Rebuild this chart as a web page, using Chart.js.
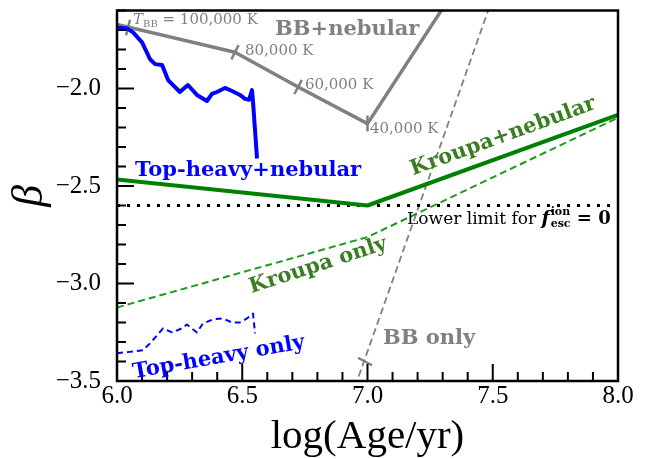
<!DOCTYPE html>
<html>
<head>
<meta charset="utf-8">
<script src="https://cdn.jsdelivr.net/npm/chart.js@4.4.1/dist/chart.umd.min.js"></script>
<style>
html, body { margin: 0; padding: 0; background: #fff; }
#wrap { width: 652px; height: 459px; }
</style>
</head>
<body>
<div id="wrap"><canvas id="beta-chart" width="652" height="459"></canvas></div>
<script>
// beta slope vs log(age) — model tracks
const xTicks = [6.0, 6.5, 7.0, 7.5, 8.0];
const yTicks = [-3.5, -3.0, -2.5, -2.0];

// Top-heavy IMF + nebular
const thNebAge  = [6.0, 6.04, 6.064, 6.10, 6.132, 6.152, 6.18, 6.204, 6.251, 6.283, 6.319, 6.359, 6.379, 6.399, 6.431, 6.459, 6.491, 6.511, 6.527, 6.539, 6.543, 6.559];
const thNebBeta = [-1.687, -1.692, -1.712, -1.763, -1.850, -1.875, -1.880, -1.957, -2.018, -1.982, -2.033, -2.064, -2.028, -2.018, -1.997, -2.013, -2.033, -2.053, -2.058, -2.008, -2.069, -2.359];

// Top-heavy IMF, stellar only
const thAge  = [6.0, 6.104, 6.132, 6.184, 6.22, 6.259, 6.279, 6.319, 6.343, 6.383, 6.423, 6.459, 6.491, 6.519, 6.543, 6.551];
const thBeta = [-3.358, -3.342, -3.307, -3.230, -3.251, -3.230, -3.210, -3.251, -3.205, -3.184, -3.179, -3.200, -3.200, -3.179, -3.154, -3.256];

// Kroupa IMF
const krNebAge  = [6.0, 7.0, 8.0];
const krNebBeta = [-2.466, -2.60, -2.135];
const krAge  = [6.0, 7.0, 8.0];
const krBeta = [-3.123, -2.762, -2.15];

// blackbody tracks
const bbNebAge  = [6.0, 6.471, 6.723, 7.0, 7.32];
const bbNebBeta = [-1.671, -1.814, -1.992, -2.18, -1.55];
const bbMarkAge  = [6.044, 6.471, 6.723, 7.0];
const bbMarkBeta = [-1.687, -1.814, -1.992, -2.18];
const bbMarkText = ['100,000 K', '80,000 K', '60,000 K', '40,000 K'];
const bbOnlyAge  = [6.95, 7.49];
const bbOnlyBeta = [-3.53, -1.57];
const bbOnlyMarkAge = [6.99];
const bbOnlyMarkBeta = [-3.40];

// f_esc = 0 lower limit
const limitAge  = [6.0, 8.0];
const limitBeta = [-2.6, -2.6];

const BLUE = '#0000ff';
const GREEN = '#008000';
const GREEN_D = '#1f9a1f';
const GREEN_T = '#3b7d22';
const GRAY = '#808080';
const SERIF = '"DejaVu Serif", serif';

function pts(xs, ys) { return xs.map((v, i) => ({ x: v, y: ys[i] })); }

function line(data, color, width, dash) {
    return {
        data, borderColor: color, backgroundColor: color, borderWidth: width,
        borderDash: dash || [], pointRadius: 0, tension: 0, fill: false,
        borderCapStyle: 'butt', borderJoinStyle: 'round'
    };
}

const frame = {
    id: 'frame',
    afterDatasetsDraw(chart) {
        const { ctx, chartArea: a, scales: { x, y } } = chart;
        ctx.save();
        ctx.strokeStyle = '#000';
        ctx.lineWidth = 2.5;
        ctx.strokeRect(a.left, a.top, a.right - a.left, a.bottom - a.top);
        ctx.lineWidth = 2;
        ctx.beginPath();
        for (let i = 1; i < 20; i++) {
            const px = x.getPixelForValue(6 + i * 0.1);
            const len = i % 5 === 0 ? 17 : 9;
            ctx.moveTo(px, a.bottom);
            ctx.lineTo(px, a.bottom - len);
        }
        for (let i = 1; i < 20; i++) {
            const py = y.getPixelForValue(-3.5 + i * 0.1);
            const len = i % 5 === 0 ? 17 : 9;
            ctx.moveTo(a.left, py);
            ctx.lineTo(a.left + len, py);
        }
        ctx.stroke();
        ctx.restore();
    }
};

const labels = {
    id: 'labels',
    afterDatasetsDraw(chart) {
        const { ctx, scales: { x, y } } = chart;
        const X = (v) => x.getPixelForValue(v);
        const Y = (v) => y.getPixelForValue(v);

        function text(str, ax, by, font, color, rot, align) {
            ctx.save();
            ctx.translate(X(ax), Y(by));
            if (rot) ctx.rotate(rot * Math.PI / 180);
            ctx.font = font;
            ctx.fillStyle = color;
            ctx.textAlign = align || 'left';
            ctx.textBaseline = 'alphabetic';
            ctx.fillText(str, 0, 0);
            ctx.restore();
        }

        ctx.save();
        // T_BB = 100,000 K
        let px = X(6.064), py = Y(-1.671);
        ctx.fillStyle = GRAY;
        ctx.textBaseline = 'alphabetic';
        ctx.font = 'italic 15px ' + SERIF;
        ctx.fillText('T', px, py);
        px += ctx.measureText('T').width;
        ctx.font = '10px ' + SERIF;
        ctx.fillText('BB', px, py + 3);
        px += ctx.measureText('BB').width;
        ctx.font = '15px ' + SERIF;
        ctx.fillText(' = ' + bbMarkText[0], px, py);
        ctx.restore();

        text(bbMarkText[1], 6.511, -1.829, '15px ' + SERIF, GRAY);
        text(bbMarkText[2], 6.75, -2.002, '15px ' + SERIF, GRAY);
        text(bbMarkText[3], 7.01, -2.227, '15px ' + SERIF, GRAY);

        text('BB+nebular', 6.631, -1.727, 'bold 21px ' + SERIF, GRAY);
        text('BB only', 7.062, -3.312, 'bold 21px ' + SERIF, GRAY);
        text('Top-heavy+nebular', 6.072, -2.451, 'bold 21px ' + SERIF, BLUE);
        text('Top-heavy only', 6.41, -3.408, 'bold 21px ' + SERIF, BLUE, -10, 'center');
        text('Kroupa+nebular', 7.549, -2.273, 'bold 21px ' + SERIF, GREEN_T, -20, 'center');
        text('Kroupa only', 6.81, -2.935, 'bold 21px ' + SERIF, GREEN_T, -18, 'center');

        // Lower limit for f_esc^ion = 0
        ctx.save();
        px = X(7.158); py = Y(-2.695);
        ctx.fillStyle = '#000';
        ctx.font = '17px ' + SERIF;
        ctx.fillText('Lower limit for ', px, py);
        px += ctx.measureText('Lower limit for ').width;
        ctx.font = 'italic bold 19px ' + SERIF;
        ctx.fillText('f', px, py);
        px += ctx.measureText('f').width + 1;
        ctx.font = 'bold 11px ' + SERIF;
        ctx.fillText('ion', px, py - 9);
        ctx.fillText('esc', px, py + 3);
        px += Math.max(ctx.measureText('ion').width, ctx.measureText('esc').width);
        ctx.font = 'bold 18px ' + SERIF;
        ctx.fillText(' = 0', px, py);
        ctx.restore();
    }
};

const datasets = [
    line(pts(thNebAge, thNebBeta), BLUE, 4),
    line(pts(thAge, thBeta), BLUE, 2, [6, 4]),
    line(pts(krNebAge, krNebBeta), GREEN, 4),
    line(pts(krAge, krBeta), GREEN_D, 2, [7, 4]),
    line(pts(limitAge, limitBeta), '#000', 3, [3, 7]),
    line(pts(bbNebAge, bbNebBeta), GRAY, 3.5),
    line(pts(bbOnlyAge, bbOnlyBeta), GRAY, 1.8, [7, 4]),
    {
        data: pts(bbMarkAge, bbMarkBeta), showLine: false, pointStyle: 'line',
        pointRadius: 8, pointBorderWidth: 2.5, borderColor: GRAY, backgroundColor: GRAY,
        pointRotation: [104, 117, 118, 90]
    },
    {
        data: pts(bbOnlyMarkAge, bbOnlyMarkBeta), showLine: false, pointStyle: 'line',
        pointRadius: 8, pointBorderWidth: 2.5, borderColor: GRAY, backgroundColor: GRAY,
        pointRotation: 28
    }
];

new Chart(document.getElementById('beta-chart').getContext('2d'), {
    type: 'line',
    data: { datasets },
    options: {
        responsive: false,
        animation: false,
        events: [],
        layout: { padding: { top: 8, right: 34, left: 0, bottom: 0 } },
        plugins: { legend: { display: false }, tooltip: { enabled: false } },
        scales: {
            x: {
                type: 'linear', min: 6, max: 8,
                grid: { display: false, drawTicks: false },
                border: { display: false },
                afterFit: (s) => { s.height = 78; s.paddingLeft = 0; s.paddingRight = 0; },
                afterBuildTicks: (s) => { s.ticks = xTicks.map((v) => ({ value: v })); },
                ticks: {
                    padding: 0, color: '#000', maxRotation: 0,
                    font: { family: '"Liberation Serif", serif', size: 25 },
                    callback: (v) => Number(v).toFixed(1)
                },
                title: {
                    display: true, text: 'log(Age/yr)', color: '#000', padding: 0,
                    font: { family: '"Liberation Serif", serif', size: 41, lineHeight: 1.07 }
                }
            },
            y: {
                type: 'linear', min: -3.5, max: -1.6,
                grid: { display: false, drawTicks: false },
                border: { display: false },
                afterFit: (s) => { s.width = 117; s.paddingTop = 0; s.paddingBottom = 0; },
                afterBuildTicks: (s) => { s.ticks = yTicks.map((v) => ({ value: v })); },
                ticks: {
                    padding: 16, color: '#000',
                    font: { family: '"Liberation Serif", serif', size: 25 },
                    callback: (v) => (v < 0 ? '\u2212' : '') + Math.abs(v).toFixed(1)
                },
                title: {
                    display: true, text: 'β', color: '#000', padding: 0,
                    font: { family: '"Liberation Serif", serif', size: 44, style: 'italic', lineHeight: 1.4 }
                }
            }
        }
    },
    plugins: [frame, labels]
});
</script>
</body>
</html>
